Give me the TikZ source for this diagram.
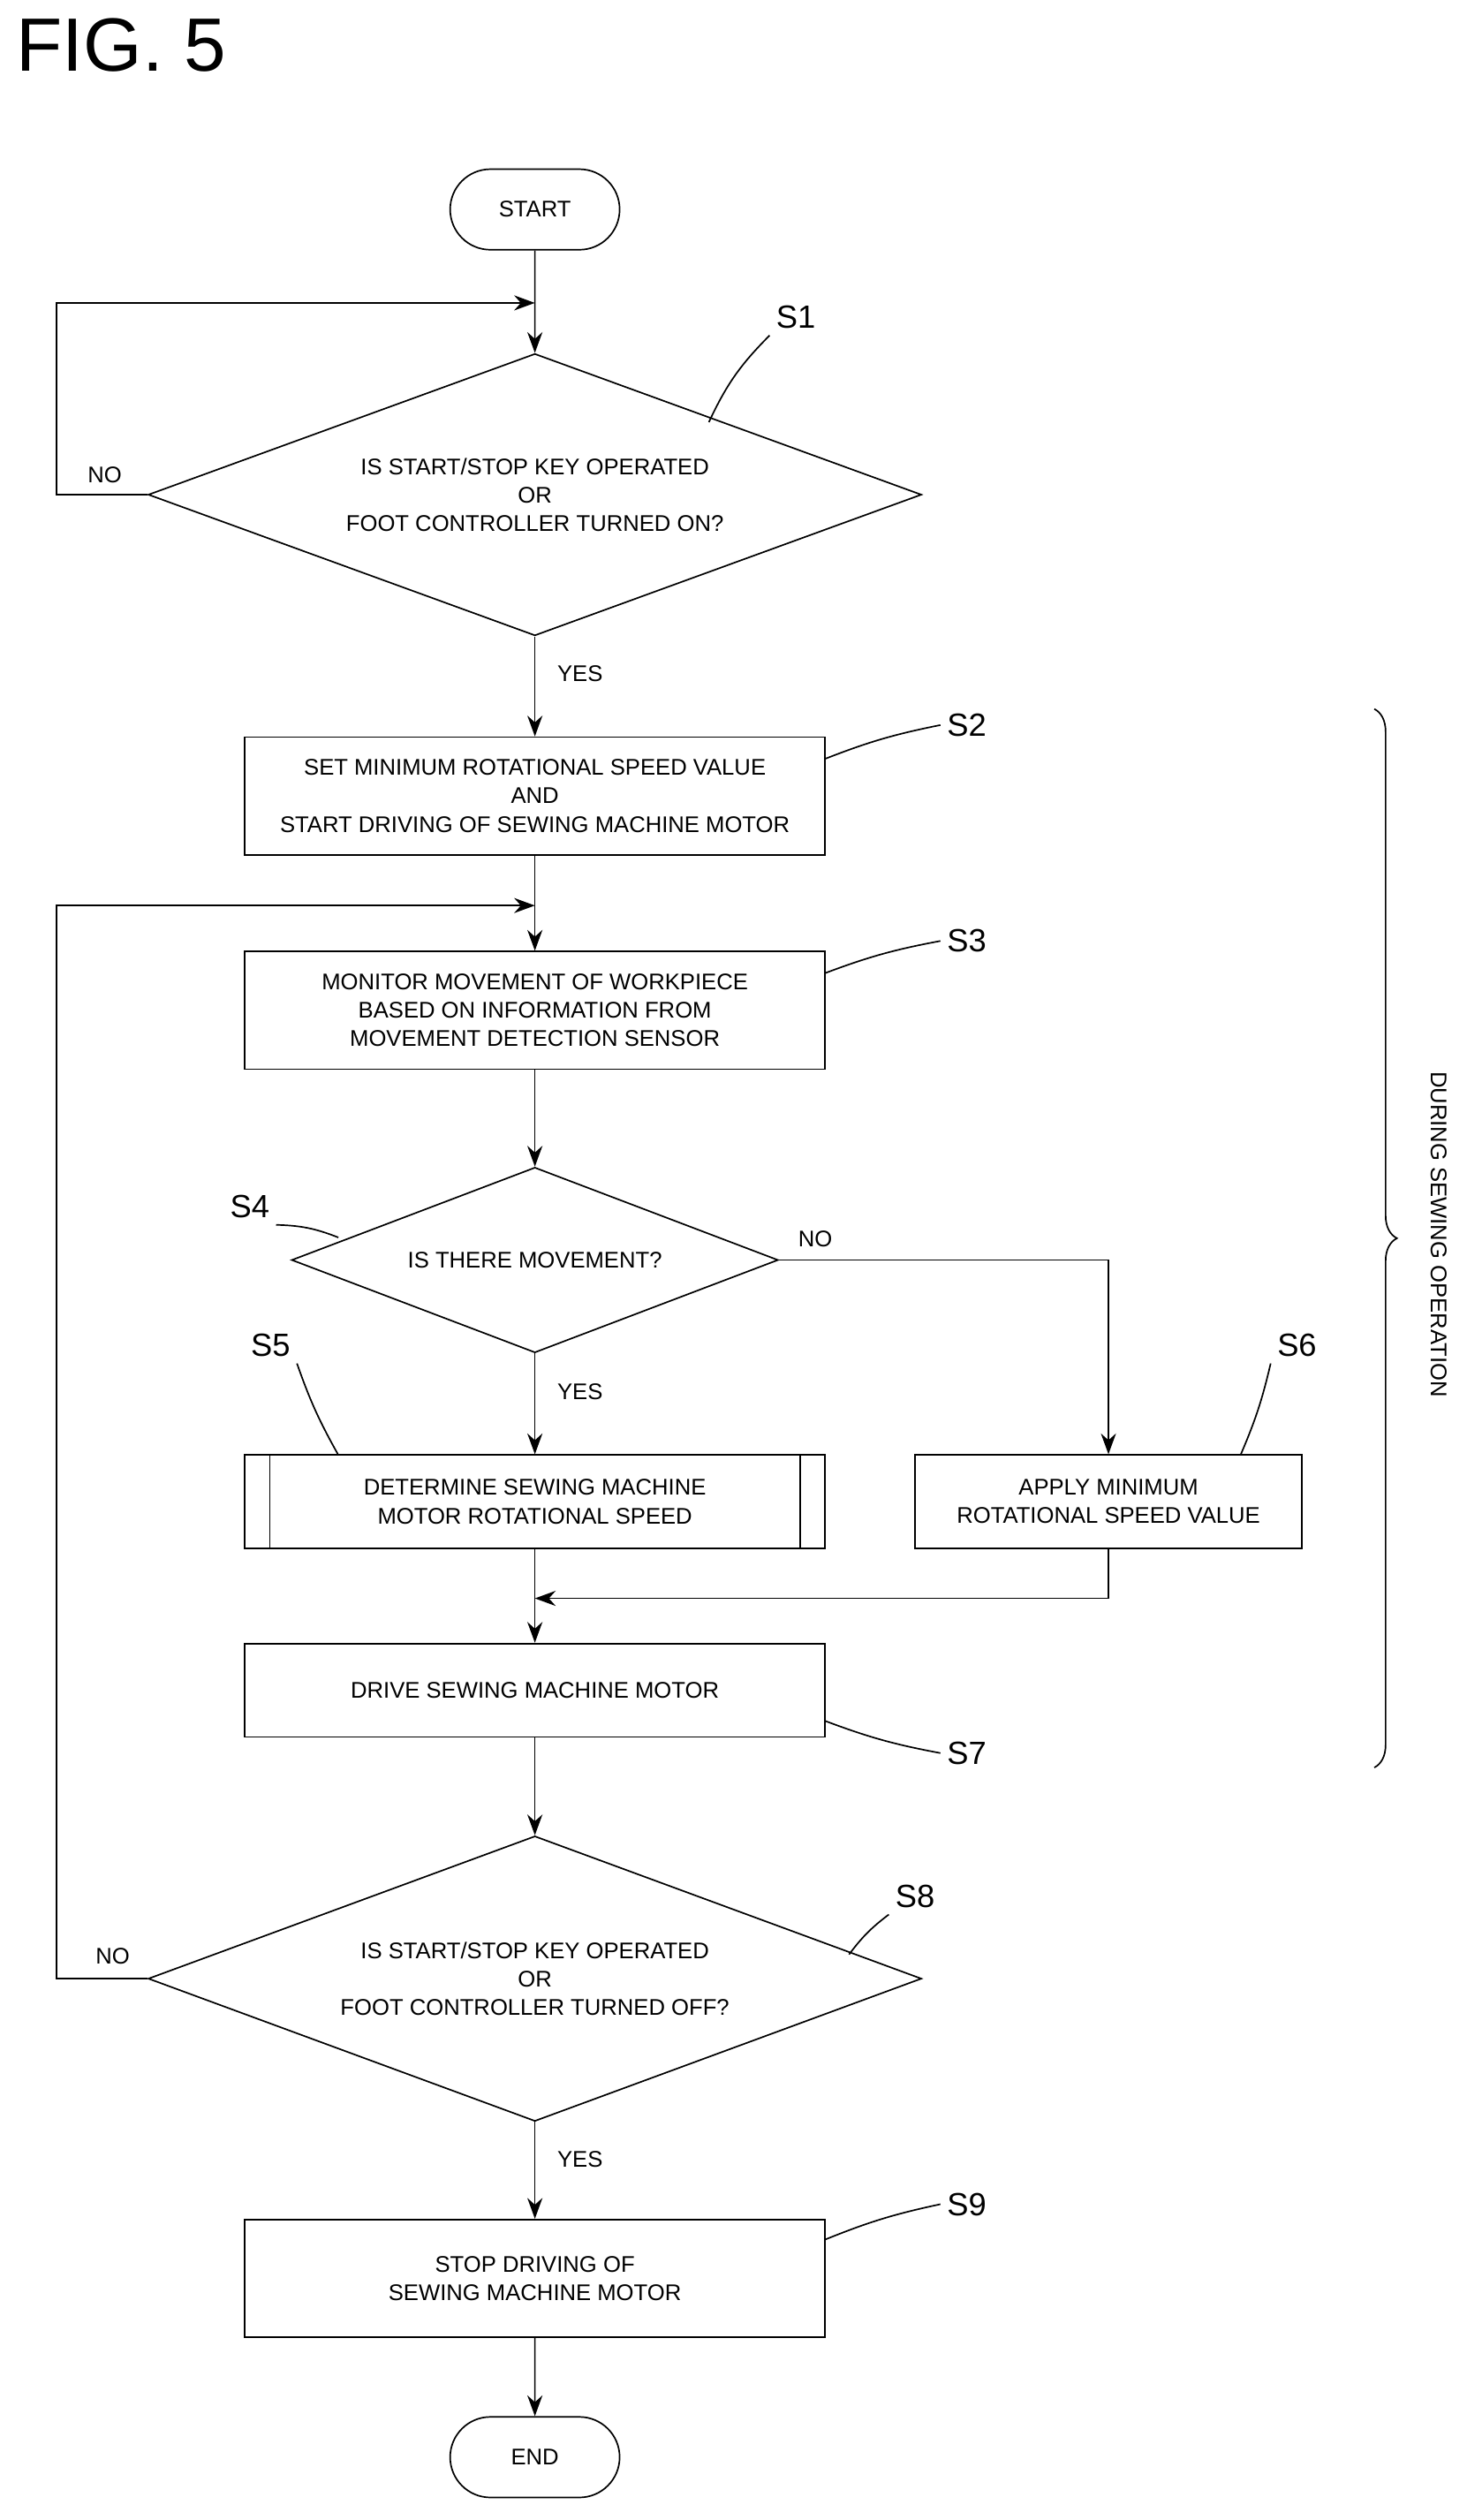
\documentclass[tikz,border=0pt]{standalone}
\usepackage{fontspec}
\setmainfont{Liberation Sans}
\usetikzlibrary{shapes.geometric, shapes.misc, decorations.pathreplacing, arrows.meta}
\tikzset{
  box_font/.style = {font=\fontsize{12}{15}\selectfont},
  process/.style = {box_font, draw, thick, align=center, minimum width=10.8cm, minimum height=2.19cm, inner sep=0},
  short_process/.style = {process, minimum height=1.74cm},
  terminal/.style = {box_font, draw, thick, rounded rectangle, minimum width=3.39cm, minimum height=1.5cm},
  decision/.style = {box_font, draw, thick, diamond, align=center, inner sep=0},
  tag/.style = {font=\fontsize{17}{17}\selectfont},
  answer/.style = {box_font},
  flow/.style = {thick, -{Stealth[length=11pt, width=8pt]}},
  leader/.style = {thick}
}
\begin{document}
\begin{tikzpicture}[x=0.03cm, y=-0.03cm]
  \useasboundingbox (0,0) rectangle (910,1564);

  % Title
  \node[font=\fontsize{40}{40}\selectfont, anchor=west, inner sep=0] (fig) at (10,28) {FIG. 5};

  % Flow
  \node[terminal] (start) at (332,130) {START};
  \node[decision, aspect=2.74, minimum width=14.4cm, minimum height=5.25cm] (s1) at (332,307) {IS START/STOP KEY OPERATED\\OR\\FOOT CONTROLLER TURNED ON?};
  \node[process] (s2) at (332,494) {SET MINIMUM ROTATIONAL SPEED VALUE\\AND\\START DRIVING OF SEWING MACHINE MOTOR};
  \node[process] (s3) at (332,627) {MONITOR MOVEMENT OF WORKPIECE\\BASED ON INFORMATION FROM\\MOVEMENT DETECTION SENSOR};
  \node[decision, aspect=2.63, minimum width=9.06cm, minimum height=3.45cm] (s4) at (332,782) {IS THERE MOVEMENT?};
  \node[short_process] (s5) at (332,932) {DETERMINE SEWING MACHINE\\MOTOR ROTATIONAL SPEED};
  \node[short_process, minimum width=7.2cm] (s6) at (688,932) {APPLY MINIMUM\\ROTATIONAL SPEED VALUE};
  \node[short_process] (s7) at (332,1049) {DRIVE SEWING MACHINE MOTOR};
  \node[decision, aspect=2.71, minimum width=14.4cm, minimum height=5.31cm] (s8) at (332,1228) {IS START/STOP KEY OPERATED\\OR\\FOOT CONTROLLER TURNED OFF?};
  \node[process] (s9) at (332,1414) {STOP DRIVING OF\\SEWING MACHINE MOTOR};
  \node[terminal] (end) at (332,1525) {END};

  % predefined process bars
  \draw[thick] ([xshift=0.48cm]s5.north west) -- ([xshift=0.48cm]s5.south west);
  \draw[thick] ([xshift=-0.48cm]s5.north east) -- ([xshift=-0.48cm]s5.south east);

  % Loop points
  \coordinate (j1) at (332,188);
  \coordinate (j2) at (332,562);
  \coordinate (j3) at (332,992);

  % Arrows
  \draw[flow] (start) -- (s1);
  \draw[flow] (s1.west) -- (35,307) -- (35,188) -- (j1);
  \draw[flow] (s1) -- (s2);
  \draw[flow] (s2) -- (s3);
  \draw[flow] (s8.west) -- (35,1228) -- (35,562) -- (j2);
  \draw[flow] (s3) -- (s4);
  \draw[flow] (s4) -- (s5);
  \draw[flow] (s4.east) -| (s6.north);
  \draw[flow] (s6.south) |- (j3);
  \draw[flow] (s5) -- (s7);
  \draw[flow] (s7) -- (s8);
  \draw[flow] (s8) -- (s9);
  \draw[flow] (s9) -- (end);

  % Answers
  \node[answer] (no1) at (65,295) {NO};
  \node[answer] (yes1) at (360,418) {YES};
  \node[answer] (no4) at (506,769) {NO};
  \node[answer] (yes4) at (360,864) {YES};
  \node[answer] (no8) at (70,1214) {NO};
  \node[answer] (yes8) at (360,1340) {YES};

  % Step tags
  \node[tag] (t1) at (494,197) {S1};
  \node[tag] (t2) at (600,450) {S2};
  \node[tag] (t3) at (600,584) {S3};
  \node[tag] (t4) at (155,749) {S4};
  \node[tag] (t5) at (168,835) {S5};
  \node[tag] (t6) at (805,835) {S6};
  \node[tag] (t7) at (600,1088) {S7};
  \node[tag] (t8) at (568,1177) {S8};
  \node[tag] (t9) at (600,1368) {S9};

  \draw[leader] (440,262) to[bend left=10] (t1.south west);
  \draw[leader] (512,471) to[bend left=5] (t2.west);
  \draw[leader] (512,604) to[bend left=5] (t3.west);
  \draw[leader] (t4.south east) to[bend left=10] (210,768);
  \draw[leader] (t5.south east) to[bend right=5] (210,903);
  \draw[leader] (770,903) to[bend right=5] (t6.south west);
  \draw[leader] (512,1068) to[bend right=5] (t7.west);
  \draw[leader] (527,1213) to[bend left=8] (t8.south west);
  \draw[leader] (512,1390) to[bend left=5] (t9.west);

  % Brace
  \draw[thick, decorate, decoration={brace, amplitude=12pt}] (853,440) -- (853,1097);
  \node[box_font, rotate=-90] (during) at (893,766) {DURING SEWING OPERATION};
\end{tikzpicture}
\end{document}
